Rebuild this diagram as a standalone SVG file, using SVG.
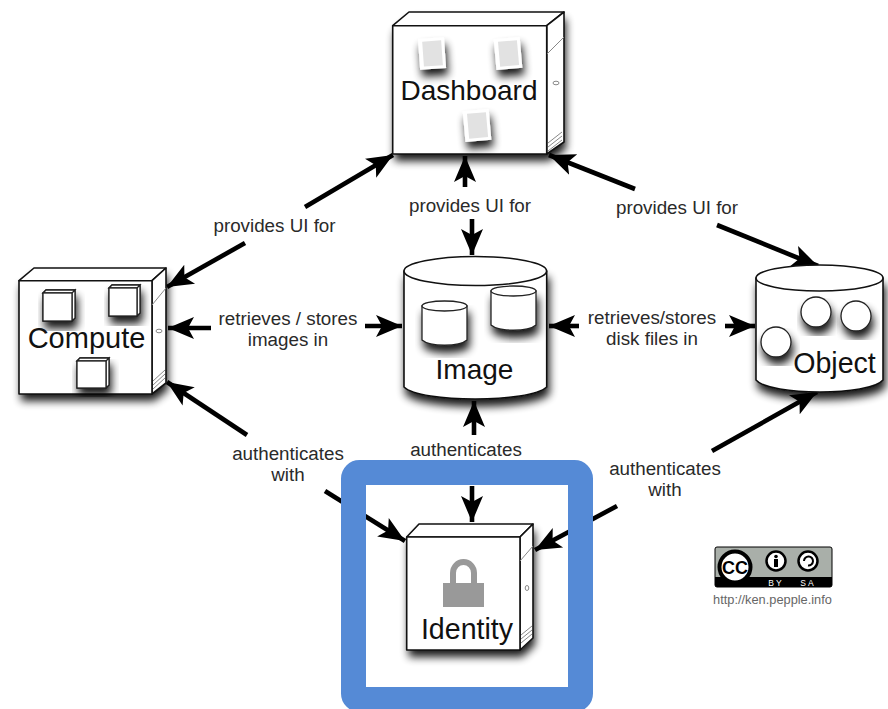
<svg xmlns="http://www.w3.org/2000/svg" width="888" height="709" viewBox="0 0 888 709">
<style>
text{font-family:"Liberation Sans",Arial,sans-serif;fill:#111}
.l{font-size:18.8px;text-anchor:middle;fill:#2a2a2a}
.t{font-size:28px;text-anchor:middle}
.c{stroke:#000;stroke-width:4.6;fill:none;marker-end:url(#h)}
.b{fill:#fff;stroke:#111;stroke-width:1.6;stroke-linejoin:round}
.d{fill:none;stroke:#888;stroke-width:1}
.s{filter:url(#sh)}
.m{fill:#fff;stroke:#222;stroke-width:1.3}
</style>
<defs>
<filter id="sh" x="-20%" y="-20%" width="150%" height="150%"><feGaussianBlur in="SourceAlpha" stdDeviation="4"/><feOffset dx="2" dy="7"/><feComponentTransfer><feFuncA type="linear" slope="0.9"/></feComponentTransfer><feMerge><feMergeNode/><feMergeNode in="SourceGraphic"/></feMerge></filter>
<marker id="h" markerUnits="userSpaceOnUse" markerWidth="28" markerHeight="26" refX="26" refY="13" orient="auto"><path d="M0,2 L26,13 L0,24 L6,13z" fill="#000"/></marker>
</defs>
<rect width="888" height="709" fill="#fff"/>
<g id="connectors">
<path class="c" d="M305,207L393,155"/><path class="c" d="M245,243L167,287"/>
<path class="c" d="M465,187L465,156"/><path class="c" d="M472,219L472,255"/>
<path class="c" d="M635,189L549,155"/><path class="c" d="M717,225L818,266"/>
<path class="c" d="M211,328L168,328"/><path class="c" d="M365,326L402,326"/>
<path class="c" d="M579,326L549,326"/><path class="c" d="M725,326L755,326"/>
<path class="c" d="M247,435L167,382"/><path class="c" d="M325,491L405,541"/>
<path class="c" d="M474,435L474,401"/><path class="c" d="M472,486L472,522"/>
<path class="c" d="M712,451L817,392"/><path class="c" d="M617,506L535,550"/>
</g>
<g id="dashboard">
<path class="s" d="M392.700,25.700L409,12H564V142L546.700,154H392.700Z" fill="#fff"/>
<path class="b" d="M392.700,25.700L409,12H564L546.700,25.700Z"/>
<path class="b" d="M546.700,25.700L564,12V142L546.700,154Z"/>
<rect class="b" x="392.700" y="25.700" width="154" height="128.300"/>
<path class="d" d="M547,54L564,37M548,143L562,132M548,147L562,136M548,151L562,140"/>
<ellipse cx="556" cy="83" rx="3" ry="1.800" class="d"/>
<g class="s" fill="#fff"><rect x="419" y="38" width="26" height="31" transform="rotate(-4 432 53)"/><rect x="495" y="38" width="26" height="31" transform="rotate(-5 508 53)"/><rect x="464" y="110" width="26" height="31" transform="rotate(-5 477 125)"/></g>
<g fill="#e2e2e2"><rect x="423" y="41" width="19" height="25" transform="rotate(-4 432 53)"/><rect x="499" y="41" width="19" height="25" transform="rotate(-5 508 53)"/><rect x="468" y="113" width="19" height="25" transform="rotate(-5 477 125)"/></g>
<text class="t" x="469" y="100">Dashboard</text>
</g>
<g id="compute">
<path class="s" d="M19,280.700L34,268H166V383L152,394H19Z" fill="#fff"/>
<path class="b" d="M19,280.700L34,268H166L152,280.700Z"/>
<path class="b" d="M152,280.700L166,268V383L152,394Z"/>
<rect class="b" x="19" y="280.700" width="133" height="113.300"/>
<path class="d" d="M152,305L166,288M153,381L165,370M153,385L165,374M153,389L165,378"/>
<ellipse cx="159" cy="331" rx="3" ry="1.800" class="d"/>
<g class="m"><path class="s" d="M43,293L46,290H75V318L72,321H43Z"/><path d="M43,293L46,290H75L72,293ZM72,293L75,290V318L72,321Z"/><rect x="43" y="293" width="29" height="28"/>
<path class="s" d="M109,288L112,285H140V313L137,316H109Z"/><path d="M109,288L112,285H140L137,288ZM137,288L140,285V313L137,316Z"/><rect x="109" y="288" width="28" height="28"/>
<path class="s" d="M77,361L80,358H109V385L106,388H77Z"/><path d="M77,361L80,358H109L106,361ZM106,361L109,358V385L106,388Z"/><rect x="77" y="361" width="29" height="27"/></g>
<text class="t" x="86.500" y="348" style="font-size:29px">Compute</text>
</g>
<g id="image">
<path class="b s" d="M404,271V387C420,403 530,403 546.700,387V271Z"/>
<ellipse class="b" cx="475.300" cy="271" rx="71.300" ry="14.500"/>
<g class="m"><path class="s" d="M422,306V340C430,347 459,347 467,340V306Z"/><ellipse cx="444.500" cy="306" rx="22.500" ry="5"/>
<path class="s" d="M491,291V325C499,332 528,332 536,325V291Z"/><ellipse cx="513.500" cy="291" rx="22.500" ry="5"/></g>
<text class="t" x="474.500" y="379">Image</text>
</g>
<g id="object">
<path class="b s" d="M756,278V380C770,396 870,396 883,380V278Z"/>
<ellipse class="b" cx="819.500" cy="278" rx="63.500" ry="13"/>
<g class="m"><circle class="s" cx="816" cy="312" r="15"/><circle class="s" cx="856" cy="316" r="15"/><circle class="s" cx="776" cy="342" r="15"/></g>
<text class="t" x="834.500" y="373" style="font-size:28.600px">Object</text>
</g>
<rect id="highlight" x="353.500" y="472.500" width="227" height="227" rx="6" fill="none" stroke="#558ad6" stroke-width="25"/>
<g id="identity">
<path class="s" d="M406.700,537L419,524H533V638L520,650H406.700Z" fill="#fff"/>
<path class="b" d="M406.700,537L419,524H533L520,537Z"/>
<path class="b" d="M520,537L533,524V638L520,650Z"/>
<rect class="b" x="406.700" y="537" width="113.300" height="113"/>
<path class="d" d="M520,561L533,546M521,635L532,626M521,639L532,630M521,643L532,634"/>
<ellipse cx="527" cy="588" rx="1.800" ry="2.500" class="d"/>
<path d="M453,584V573A10.500,11 0 0 1 474,573V584" fill="none" stroke="#999" stroke-width="6"/>
<rect x="443" y="583" width="41" height="24" fill="#999"/>
<text class="t" x="467" y="639" style="font-size:28.600px">Identity</text>
</g>
<g id="labels">
<text class="l" x="274.500" y="232">provides UI for</text>
<text class="l" x="470" y="212">provides UI for</text>
<text class="l" x="677" y="214">provides UI for</text>
<text class="l" x="288" y="325">retrieves / stores</text><text class="l" x="288" y="346">images in</text>
<text class="l" x="652" y="324">retrieves/stores</text><text class="l" x="652" y="345">disk files in</text>
<text class="l" x="288" y="460">authenticates</text><text class="l" x="288" y="481">with</text>
<text class="l" x="466" y="456">authenticates</text>
<text class="l" x="665" y="475">authenticates</text><text class="l" x="665" y="496">with</text>
</g>
<g id="license">
<rect x="715" y="547" width="117" height="40" rx="2" fill="#a9afa9" stroke="#000"/>
<path d="M715,577H832V585Q832,587 830,587H717Q715,587 715,585Z" fill="#000"/>
<circle cx="735" cy="567" r="15.500" fill="#fff" stroke="#000" stroke-width="4"/>
<text x="735" y="573.500" text-anchor="middle" style="font-size:18px;font-weight:bold;fill:#000">CC</text>
<circle cx="776" cy="561" r="9.500" fill="#fff" stroke="#000" stroke-width="2.500"/>
<circle cx="776" cy="556.500" r="1.800" fill="#000"/><rect x="774" y="559" width="4" height="8" fill="#000"/>
<circle cx="808" cy="561" r="9.500" fill="#fff" stroke="#000" stroke-width="2.500"/>
<path d="M804,561A4.500,4.500 0 1 1 808,565.500" fill="none" stroke="#000" stroke-width="2"/>
<text x="776" y="585.500" text-anchor="middle" style="font-size:8.500px;fill:#fff;letter-spacing:2px">BY</text>
<text x="808" y="585.500" text-anchor="middle" style="font-size:8.500px;fill:#fff;letter-spacing:2px">SA</text>
<text x="772.500" y="603.500" text-anchor="middle" style="font-size:12.800px;fill:#666">http://ken.pepple.info</text>
</g>
</svg>
